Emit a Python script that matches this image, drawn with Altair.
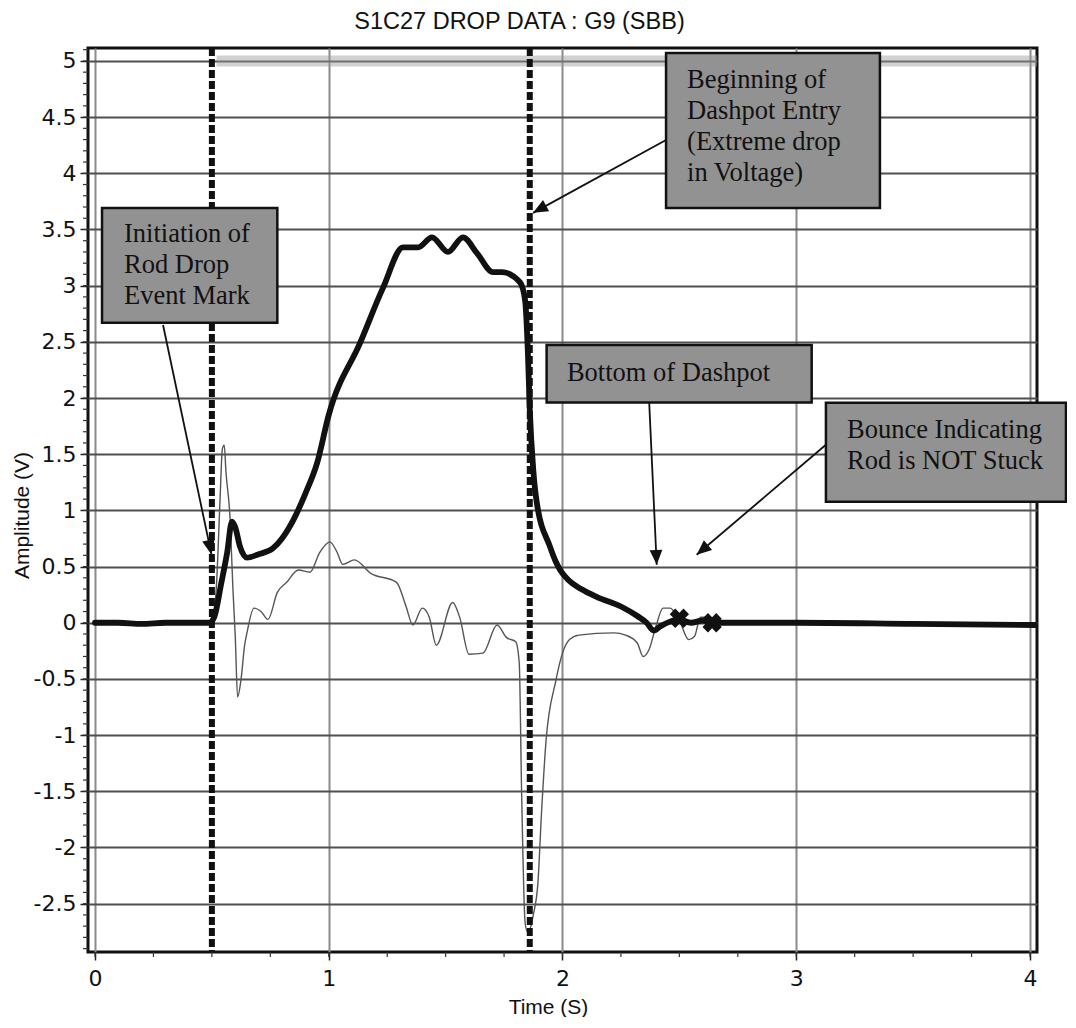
import math
import altair as alt
import pandas as pd

# ---------------- data ----------------
thick_t = [0.0, 0.1, 0.2, 0.3, 0.4, 0.49, 0.51, 0.54, 0.565, 0.586, 0.60, 0.62, 0.65,
           0.70, 0.76, 0.80, 0.85, 0.90, 0.95, 1.00, 1.134, 1.232, 1.318, 1.382, 1.442,
           1.51, 1.574, 1.634, 1.703, 1.741, 1.818, 1.84, 1.852, 1.86, 1.875, 1.89,
           1.946, 1.97, 1.99, 2.025, 2.08, 2.146, 2.25, 2.32, 2.36, 2.39, 2.42, 2.46,
           2.50, 2.55, 2.60, 2.64, 2.70, 3.0, 3.5, 4.02]
thick_v = [0.0, 0.0, -0.01, 0.0, 0.0, 0.0, 0.05, 0.35, 0.62, 0.90, 0.85, 0.68, 0.58,
           0.61, 0.66, 0.75, 0.92, 1.15, 1.42, 1.85, 2.49, 2.98, 3.34, 3.34, 3.43,
           3.30, 3.43, 3.29, 3.12, 3.12, 3.03, 2.87, 2.40, 1.90, 1.36, 1.07,
           0.68, 0.55, 0.47, 0.38, 0.30, 0.23, 0.145, 0.06, 0.0, -0.07, -0.03, 0.01,
           0.03, 0.0, 0.02, 0.0, 0.0, 0.0, -0.01, -0.02]

thin_t = [0.0, 0.1, 0.2, 0.3, 0.4, 0.5, 0.52, 0.535, 0.545, 0.553, 0.56, 0.578, 0.59,
          0.60, 0.61, 0.625, 0.64, 0.65, 0.68, 0.71, 0.74, 0.78, 0.82, 0.87, 0.92, 0.96,
          1.005, 1.035, 1.06, 1.11, 1.18, 1.29, 1.33, 1.36, 1.40, 1.43, 1.46, 1.53, 1.56,
          1.60, 1.66, 1.72, 1.76, 1.80, 1.815, 1.825, 1.84, 1.85, 1.865, 1.875, 1.895,
          1.91, 1.93, 1.97, 2.0, 2.03, 2.07, 2.22, 2.27, 2.32, 2.345, 2.37, 2.40, 2.43,
          2.46, 2.50, 2.54, 2.565, 2.59, 2.63, 2.67, 2.72]
thin_v = [0.0, 0.01, 0.0, -0.01, 0.0, 0.0, 0.35, 1.10, 1.55, 1.58, 1.35, 0.92, 0.30,
          -0.12, -0.66, -0.50, -0.20, -0.09, 0.13, 0.10, 0.03, 0.27, 0.36, 0.47, 0.45, 0.62,
          0.72, 0.63, 0.52, 0.56, 0.44, 0.36, 0.15, -0.02, 0.13, 0.05, -0.20, 0.18, 0.05,
          -0.28, -0.27, -0.02, -0.13, -0.17, -0.36, -1.50, -2.67, -2.75, -2.70, -2.60, -2.31,
          -1.70, -1.04, -0.53, -0.27, -0.15, -0.11, -0.09, -0.11, -0.18, -0.30, -0.24, -0.03, 0.13,
          0.13, 0.02, -0.15, -0.12, 0.05, 0.05, 0.0, 0.0]

event_t = [0.50, 1.86]            # dashed event marks
bounce_t = [2.50, 2.64]           # "x" bounce markers
bounce_v = [0.04, 0.0]

y_ticks = [-2.5, -2, -1.5, -1, -0.5, 0, 0.5, 1, 1.5, 2, 2.5, 3, 3.5, 4, 4.5, 5]
x_ticks = [0, 1, 2, 3, 4]

box_text = ["Initiation of\nRod Drop\nEvent Mark",
            "Beginning of\nDashpot Entry\n(Extreme drop\nin Voltage)",
            "Bottom of Dashpot",
            "Bounce Indicating\nRod is NOT Stuck"]

# ---------------- annotation geometry (data units) ----------------
box_x1 = [0.030, 2.443, 1.932, 3.127]
box_x2 = [0.780, 3.358, 3.066, 4.154]
box_y1 = [3.690, 5.071, 2.473, 1.957]
box_y2 = [2.670, 3.692, 1.960, 1.077]
txt_x = [0.124, 2.533, 2.019, 3.217]
txt_y = [3.390, 4.760, 2.153, 1.646]
arr_x1 = [0.291, 2.443, 2.371, 3.127]
arr_y1 = [2.650, 4.297, 1.956, 1.584]
arr_x2 = [0.4985, 1.874, 2.403, 2.574]
arr_y2 = [0.605, 3.648, 0.516, 0.605]
band_x = [0.52, 4.03]           # light scan band along the 5 V line
band_y = [5.0]

# ---------------- layout ----------------
W, H = 949, 904
X_DOM = [-0.03, 4.03]
Y_DOM = [-2.93, 5.115]
px_x = W / (X_DOM[1] - X_DOM[0])
px_y = H / (Y_DOM[1] - Y_DOM[0])

xs = alt.Scale(domain=X_DOM, nice=False, zero=False)
ys = alt.Scale(domain=Y_DOM, nice=False, zero=False)

LABEL_FONT = "DejaVu Sans"
TITLE_FONT = "Liberation Sans"

thick_df = pd.DataFrame({"t": thick_t, "v": thick_v})
thin_df = pd.DataFrame({"t": thin_t, "v": thin_v})
event_df = pd.DataFrame({"t": event_t})
bounce_df = pd.DataFrame({"t": bounce_t, "v": bounce_v})
box_df = pd.DataFrame({"x1": box_x1, "x2": box_x2, "y1": box_y1, "y2": box_y2,
                       "tx": txt_x, "ty": txt_y, "label": box_text})
band_df = pd.DataFrame({"x1": [band_x[0]], "x2": [band_x[1]], "y": band_y})

angles = []
for a, b, c, d in zip(arr_x1, arr_y1, arr_x2, arr_y2):
    dx = (c - a) * px_x
    dy = -(d - b) * px_y
    angles.append(math.degrees(math.atan2(dx, -dy)) % 360)
arrow_df = pd.DataFrame({"x1": arr_x1, "y1": arr_y1, "x2": arr_x2, "y2": arr_y2, "ang": angles})

minor_y = [round(-2.9 + 0.1 * i, 2) for i in range(81)]
minor_x = [0.25 * i for i in range(17)]
minor_y_df = pd.DataFrame({"m": minor_y})
minor_x_df = pd.DataFrame({"m": minor_x})

# ---------------- axes (same objects in every layer so they merge) ----------------
AX = alt.Axis(values=x_ticks, title="Time (S)", grid=True, gridColor="#8a8a8a",
              gridWidth=2, domain=False, tickSize=8, tickColor="#222222", tickWidth=1.5,
              labelFont=LABEL_FONT, labelFontSize=22, labelColor="#111111", labelPadding=8,
              labelExpr="toString(datum.value)",
              titleFont=TITLE_FONT, titleFontSize=21, titleFontWeight="normal",
              titleColor="#111111", titleX=460, titleY=61, titleBaseline="alphabetic")
AY = alt.Axis(values=y_ticks, title="Amplitude (V)", grid=True, gridColor="#4f4f4f",
              gridWidth=2.2, domain=False, tickSize=8, tickColor="#222222", tickWidth=1.5,
              labelFont=LABEL_FONT, labelFontSize=22, labelColor="#111111", labelPadding=4,
              labelExpr="toString(datum.value)",
              titleFont=TITLE_FONT, titleFontSize=21, titleFontWeight="normal",
              titleColor="#111111", titleX=-66, titleY=467, titleBaseline="middle",
              titleAngle=270, titleAlign="center")


def X(field):
    return alt.X(field, scale=xs, axis=AX)


def Y(field):
    return alt.Y(field, scale=ys, axis=AY)


# ---------------- layers ----------------
band = alt.Chart(band_df).mark_rule(color="#9a9a9a", strokeWidth=11, opacity=0.45).encode(
    x=X("x1:Q"), x2="x2:Q", y=Y("y:Q"),
)
thin = alt.Chart(thin_df).mark_line(color="#555555", strokeWidth=1.4,
                                    interpolate="monotone").encode(
    x=X("t:Q"), y=Y("v:Q"), order="t:Q",
)
thick = alt.Chart(thick_df).mark_line(color="#111111", strokeWidth=5.8, interpolate="monotone",
                                      strokeJoin="round", strokeCap="round").encode(
    x=X("t:Q"), y=Y("v:Q"), order="t:Q",
)
events = alt.Chart(event_df).mark_rule(color="#111111", strokeWidth=6,
                                       strokeDash=[8, 3]).encode(
    x=X("t:Q"),
)
bounce = alt.Chart(bounce_df).mark_point(shape="cross", angle=45, filled=True,
                                         size=380, color="#111111", opacity=1).encode(
    x=X("t:Q"), y=Y("v:Q"),
)
minor_y_ticks = alt.Chart(minor_y_df).mark_rule(color="#333333", strokeWidth=1.2).encode(
    y=Y("m:Q"), x=alt.value(-5), x2=alt.value(0),
)
minor_x_ticks = alt.Chart(minor_x_df).mark_rule(color="#333333", strokeWidth=1.2).encode(
    x=X("m:Q"), y=alt.value(H), y2=alt.value(H + 5),
)
arrow_lines = alt.Chart(arrow_df).mark_rule(color="#111111", strokeWidth=1.8).encode(
    x=X("x1:Q"), y=Y("y1:Q"), x2="x2:Q", y2="y2:Q",
)
arrow_heads = alt.Chart(arrow_df).mark_point(shape="M0,0L-0.9,2.1L0.9,2.1Z", filled=True,
                                             size=200, color="#111111", opacity=1).encode(
    x=X("x2:Q"), y=Y("y2:Q"),
    angle=alt.Angle("ang:Q", scale=None),
)
boxes = alt.Chart(box_df).mark_rect(fill="#929292", stroke="#111111", strokeWidth=2.5).encode(
    x=X("x1:Q"), x2="x2:Q", y=Y("y1:Q"), y2="y2:Q",
)
box_labels = alt.Chart(box_df).mark_text(font="Liberation Serif", fontSize=26.5, align="left",
                                         baseline="alphabetic", lineBreak="\n",
                                         lineHeight=31, color="#111111").encode(
    x=X("tx:Q"), y=Y("ty:Q"), text="label:N",
)

chart = alt.layer(
    band, thin, thick, events, bounce, minor_y_ticks, minor_x_ticks,
    arrow_lines, arrow_heads, boxes, box_labels,
).properties(
    width=W, height=H,
    title=alt.Title("S1C27 DROP DATA : G9 (SBB)", font=TITLE_FONT, fontSize=23.5,
                    fontWeight="normal", color="#111111", anchor="middle", dx=-43, offset=12),
    autosize=alt.AutoSizeParams(type="none"),
    padding={"left": 80, "top": 40, "right": 30, "bottom": 65},
    background="white",
).configure_view(
    stroke="#111111", strokeWidth=3,
)

chart.save("out.html", embed_options={"renderer": "svg", "actions": False})
